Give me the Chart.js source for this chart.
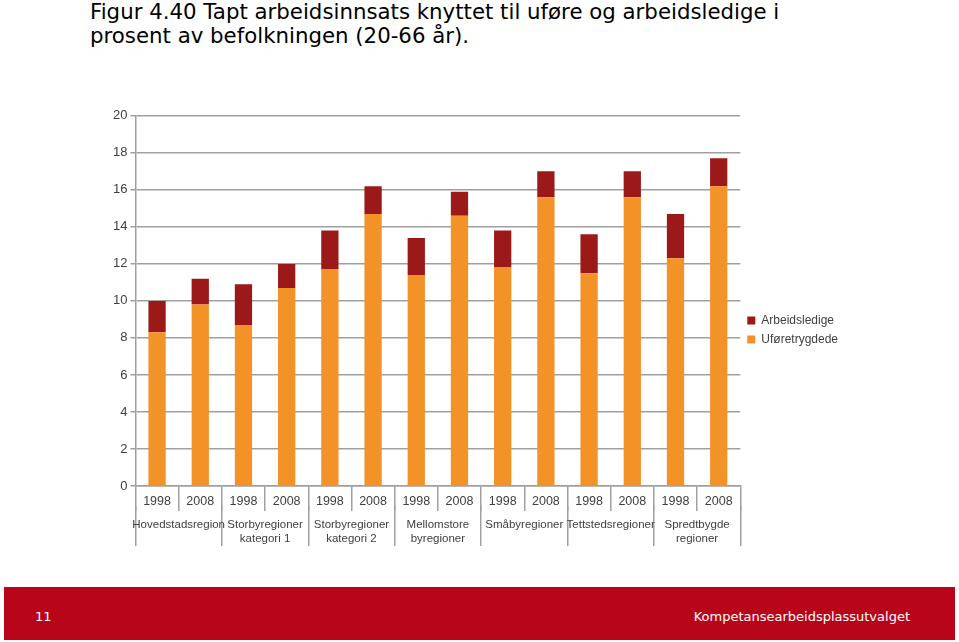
<!DOCTYPE html>
<html>
<head>
<meta charset="utf-8">
<script src="https://cdn.jsdelivr.net/npm/chart.js@4"></script>
<style>
  body { margin: 0; background: #fff; width: 959px; height: 642px; position: relative; overflow: hidden; }
  #title { position: absolute; left: 90px; top: 0px; font-family: "DejaVu Sans", Verdana, sans-serif; font-size: 21.3px; line-height: 24px; color: #000; white-space: nowrap; }
  #wrap { position: absolute; left: 110px; top: 105px; width: 738px; height: 447px; overflow: hidden; }
  #footer { position: absolute; left: 4px; top: 587px; width: 951px; height: 53px; background: #b9051a; color: #fff; font-family: "DejaVu Sans", Verdana, sans-serif; font-size: 13px; }
  #footer .num { position: absolute; left: 31px; top: 22px; }
  #footer .org { position: absolute; right: 45px; top: 22px; }
</style>
</head>
<body>
<div id="title">Figur 4.40 Tapt arbeidsinnsats knyttet til uføre og arbeidsledige i<br>prosent av befolkningen (20-66 år).</div>
<div id="wrap"><canvas id="chart"></canvas></div>
<div id="footer"><span class="num">11</span><span class="org">Kompetansearbeidsplassutvalget</span></div>
<script>
const years = ["1998", "2008", "1998", "2008", "1998", "2008", "1998", "2008", "1998", "2008", "1998", "2008", "1998", "2008"];
const regions = [
  "Hovedstadsregion",
  ["Storbyregioner", "kategori 1"],
  ["Storbyregioner", "kategori 2"],
  ["Mellomstore", "byregioner"],
  "Småbyregioner",
  "Tettstedsregioner",
  ["Spredtbygde", "regioner"]
];
const uforetrygdede = [8.3, 9.8, 8.7, 10.7, 11.7, 14.7, 11.4, 14.6, 11.8, 15.6, 11.5, 15.6, 12.3, 16.2];
const arbeidsledige = [1.7, 1.4, 2.2, 1.3, 2.1, 1.5, 2.0, 1.3, 2.0, 1.4, 2.1, 1.4, 2.4, 1.5];
const yTicks = [0, 2, 4, 6, 8, 10, 12, 14, 16, 18, 20];

const gridGrey = "#a0a0a0";
const textCol = "#404040";
const font = "'Liberation Sans', Arial, sans-serif";

// tick labels sit next to the long tick lines, so the axis heights are fixed by hand
let chart = new Chart(document.getElementById("chart"), {
  type: "bar",
  data: {
    labels: years,
    datasets: [
      {
        label: "Uføretrygdede",
        data: uforetrygdede,
        backgroundColor: "#f39327",
        barPercentage: 0.4,
        categoryPercentage: 1.0,
      },
      {
        label: "Arbeidsledige",
        data: arbeidsledige,
        backgroundColor: "#9b1a19",
        barPercentage: 0.4,
        categoryPercentage: 1.0,
      },
    ],
  },
  options: {
    responsive: true,
    maintainAspectRatio: false,
    animation: false,
    layout: { padding: { top: 8, right: 0, bottom: 5, left: 0 } },
    plugins: {
      legend: {
        position: "right",
        reverse: true,
        labels: {
          boxWidth: 8,
          boxHeight: 8,
          padding: 7,
          color: textCol,
          font: { family: font, size: 12 },
        },
      },
      title: { display: false },
      tooltip: { enabled: false },
    },
    scales: {
      x: {
        stacked: true,
        offset: true,
        afterFit: (axis) => { axis.height = 20; },
        grid: { drawOnChartArea: false, offset: true, tickLength: 25, color: gridGrey, lineWidth: 1.5 },
        border: { color: gridGrey, width: 1.5 },
        ticks: { padding: -17, maxRotation: 0, autoSkip: false, color: textCol, font: { family: font, size: 12.5 } },
      },
      x2: {
        type: "category",
        position: "bottom",
        labels: regions,
        offset: true,
        afterFit: (axis) => { axis.height = 41; },
        grid: { drawOnChartArea: false, offset: true, tickLength: 40, color: gridGrey, lineWidth: 1.5 },
        border: { display: false },
        ticks: { padding: -28, maxRotation: 0, autoSkip: false, color: textCol, font: { family: font, size: 11.5 } },
      },
      y: {
        stacked: true,
        min: 0,
        max: 20,
        afterBuildTicks: (axis) => { axis.ticks = yTicks.map((v) => ({ value: v })); },
        grid: { color: gridGrey, lineWidth: 1.5, tickLength: 5 },
        border: { color: gridGrey, width: 1.5 },
        ticks: { padding: 3, color: textCol, font: { family: font, size: 13 } },
      },
    },
  },
});
</script>
</body>
</html>
